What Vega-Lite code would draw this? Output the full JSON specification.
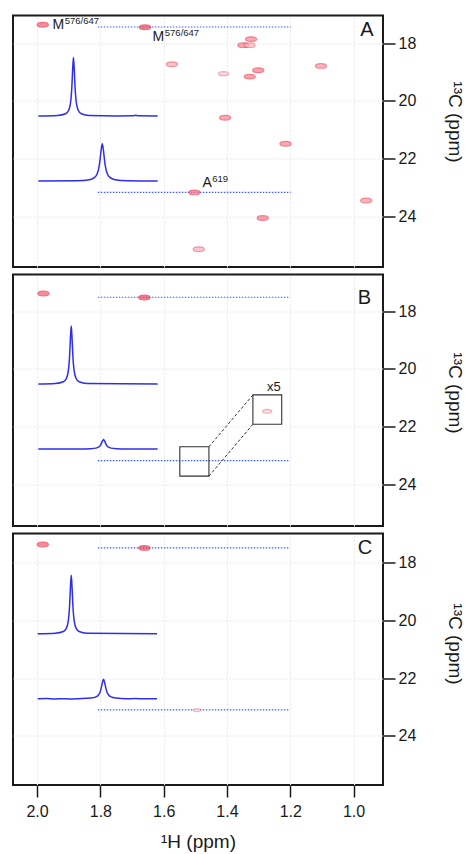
{
  "$schema": "https://vega.github.io/schema/vega-lite/v6.json",
  "background": "white",
  "padding": {"left": 12, "top": 14.5, "right": 0, "bottom": 0},
  "spacing": 5,
  "config": {
    "font": "Liberation Sans",
    "view": {"stroke": "#1a1a1a", "strokeWidth": 2},
    "axis": {"labelFont": "Liberation Sans", "titleFont": "Liberation Sans", "gridColor": "#e6e6e6", "gridDash": [2, 2], "gridWidth": 1, "labelColor": "#1a1a1a", "titleColor": "#1a1a1a", "tickColor": "#1a1a1a", "titleFontWeight": "normal"},
    "text": {"font": "Liberation Sans", "color": "#1a1a1a"}
  },
  "resolve": {"scale": {"y": "independent"}},
  "datasets": {
    "peaks": [
      {"p": "A", "h": 1.982, "c": 17.36, "i": 0.9},
      {"p": "A", "h": 1.659, "c": 17.45, "i": 1.0},
      {"p": "A", "h": 1.324, "c": 17.86, "i": 0.7},
      {"p": "A", "h": 1.348, "c": 18.07, "i": 0.7},
      {"p": "A", "h": 1.329, "c": 18.07, "i": 0.4},
      {"p": "A", "h": 1.574, "c": 18.73, "i": 0.5},
      {"p": "A", "h": 1.411, "c": 19.06, "i": 0.3},
      {"p": "A", "h": 1.301, "c": 18.94, "i": 0.75},
      {"p": "A", "h": 1.328, "c": 19.16, "i": 0.75},
      {"p": "A", "h": 1.103, "c": 18.79, "i": 0.6},
      {"p": "A", "h": 1.406, "c": 20.59, "i": 0.7},
      {"p": "A", "h": 1.215, "c": 21.49, "i": 0.7},
      {"p": "A", "h": 1.503, "c": 23.18, "i": 0.8},
      {"p": "A", "h": 0.96, "c": 23.46, "i": 0.6},
      {"p": "A", "h": 1.287, "c": 24.07, "i": 0.75},
      {"p": "A", "h": 1.489, "c": 25.15, "i": 0.45},
      {"p": "B", "h": 1.98, "c": 17.38, "i": 0.9},
      {"p": "B", "h": 1.661, "c": 17.52, "i": 1.0},
      {"p": "B", "h": 1.273, "c": 21.47, "i": 0.25},
      {"p": "C", "h": 1.982, "c": 17.36, "i": 0.9},
      {"p": "C", "h": 1.661, "c": 17.48, "i": 1.0},
      {"p": "C", "h": 1.495, "c": 23.11, "i": 0.15}
    ],
    "traces": [
      {"p": "A", "t": 1, "h": 1.996, "c": 20.527}, {"p": "A", "t": 1, "h": 1.935, "c": 20.51}, {"p": "A", "t": 1, "h": 1.91, "c": 20.452}, {"p": "A", "t": 1, "h": 1.9, "c": 20.327}, {"p": "A", "t": 1, "h": 1.895, "c": 20.124}, {"p": "A", "t": 1, "h": 1.8925, "c": 19.905}, {"p": "A", "t": 1, "h": 1.89, "c": 19.515}, {"p": "A", "t": 1, "h": 1.8875, "c": 18.906}, {"p": "A", "t": 1, "h": 1.885, "c": 18.5}, {"p": "A", "t": 1, "h": 1.8825, "c": 18.906}, {"p": "A", "t": 1, "h": 1.88, "c": 19.515}, {"p": "A", "t": 1, "h": 1.8775, "c": 19.905}, {"p": "A", "t": 1, "h": 1.875, "c": 20.124}, {"p": "A", "t": 1, "h": 1.87, "c": 20.327}, {"p": "A", "t": 1, "h": 1.86, "c": 20.452}, {"p": "A", "t": 1, "h": 1.835, "c": 20.51}, {"p": "A", "t": 1, "h": 1.75, "c": 20.525}, {"p": "A", "t": 1, "h": 1.695, "c": 20.522}, {"p": "A", "t": 1, "h": 1.688, "c": 20.505}, {"p": "A", "t": 1, "h": 1.681, "c": 20.522}, {"p": "A", "t": 1, "h": 1.619, "c": 20.528},
      {"p": "A", "t": 2, "h": 1.996, "c": 22.788}, {"p": "A", "t": 2, "h": 1.874, "c": 22.777}, {"p": "A", "t": 2, "h": 1.834, "c": 22.74}, {"p": "A", "t": 2, "h": 1.818, "c": 22.66}, {"p": "A", "t": 2, "h": 1.81, "c": 22.53}, {"p": "A", "t": 2, "h": 1.806, "c": 22.39}, {"p": "A", "t": 2, "h": 1.802, "c": 22.14}, {"p": "A", "t": 2, "h": 1.798, "c": 21.75}, {"p": "A", "t": 2, "h": 1.794, "c": 21.49}, {"p": "A", "t": 2, "h": 1.79, "c": 21.75}, {"p": "A", "t": 2, "h": 1.786, "c": 22.14}, {"p": "A", "t": 2, "h": 1.782, "c": 22.39}, {"p": "A", "t": 2, "h": 1.778, "c": 22.53}, {"p": "A", "t": 2, "h": 1.77, "c": 22.66}, {"p": "A", "t": 2, "h": 1.754, "c": 22.74}, {"p": "A", "t": 2, "h": 1.714, "c": 22.777}, {"p": "A", "t": 2, "h": 1.619, "c": 22.788},
      {"p": "B", "t": 1, "h": 1.996, "c": 20.517}, {"p": "B", "t": 1, "h": 1.942, "c": 20.5}, {"p": "B", "t": 1, "h": 1.917, "c": 20.443}, {"p": "B", "t": 1, "h": 1.907, "c": 20.319}, {"p": "B", "t": 1, "h": 1.902, "c": 20.118}, {"p": "B", "t": 1, "h": 1.8995, "c": 19.901}, {"p": "B", "t": 1, "h": 1.897, "c": 19.515}, {"p": "B", "t": 1, "h": 1.8945, "c": 18.912}, {"p": "B", "t": 1, "h": 1.892, "c": 18.51}, {"p": "B", "t": 1, "h": 1.8895, "c": 18.912}, {"p": "B", "t": 1, "h": 1.887, "c": 19.515}, {"p": "B", "t": 1, "h": 1.8845, "c": 19.901}, {"p": "B", "t": 1, "h": 1.882, "c": 20.118}, {"p": "B", "t": 1, "h": 1.877, "c": 20.319}, {"p": "B", "t": 1, "h": 1.867, "c": 20.443}, {"p": "B", "t": 1, "h": 1.842, "c": 20.5}, {"p": "B", "t": 1, "h": 1.619, "c": 20.52},
      {"p": "B", "t": 2, "h": 1.996, "c": 22.78}, {"p": "B", "t": 2, "h": 1.87, "c": 22.777}, {"p": "B", "t": 2, "h": 1.83, "c": 22.767}, {"p": "B", "t": 2, "h": 1.814, "c": 22.747}, {"p": "B", "t": 2, "h": 1.806, "c": 22.714}, {"p": "B", "t": 2, "h": 1.802, "c": 22.678}, {"p": "B", "t": 2, "h": 1.798, "c": 22.615}, {"p": "B", "t": 2, "h": 1.794, "c": 22.516}, {"p": "B", "t": 2, "h": 1.79, "c": 22.45}, {"p": "B", "t": 2, "h": 1.786, "c": 22.516}, {"p": "B", "t": 2, "h": 1.782, "c": 22.615}, {"p": "B", "t": 2, "h": 1.778, "c": 22.678}, {"p": "B", "t": 2, "h": 1.774, "c": 22.714}, {"p": "B", "t": 2, "h": 1.766, "c": 22.747}, {"p": "B", "t": 2, "h": 1.75, "c": 22.767}, {"p": "B", "t": 2, "h": 1.71, "c": 22.777}, {"p": "B", "t": 2, "h": 1.619, "c": 22.78},
      {"p": "C", "t": 1, "h": 1.998, "c": 20.457}, {"p": "C", "t": 1, "h": 1.942, "c": 20.44}, {"p": "C", "t": 1, "h": 1.917, "c": 20.382}, {"p": "C", "t": 1, "h": 1.907, "c": 20.257}, {"p": "C", "t": 1, "h": 1.902, "c": 20.054}, {"p": "C", "t": 1, "h": 1.8995, "c": 19.835}, {"p": "C", "t": 1, "h": 1.897, "c": 19.445}, {"p": "C", "t": 1, "h": 1.8945, "c": 18.836}, {"p": "C", "t": 1, "h": 1.892, "c": 18.43}, {"p": "C", "t": 1, "h": 1.8895, "c": 18.836}, {"p": "C", "t": 1, "h": 1.887, "c": 19.445}, {"p": "C", "t": 1, "h": 1.8845, "c": 19.835}, {"p": "C", "t": 1, "h": 1.882, "c": 20.054}, {"p": "C", "t": 1, "h": 1.877, "c": 20.257}, {"p": "C", "t": 1, "h": 1.867, "c": 20.382}, {"p": "C", "t": 1, "h": 1.842, "c": 20.44}, {"p": "C", "t": 1, "h": 1.621, "c": 20.46},
      {"p": "C", "t": 2, "h": 1.998, "c": 22.72}, {"p": "C", "t": 2, "h": 1.97, "c": 22.71}, {"p": "C", "t": 2, "h": 1.945, "c": 22.725}, {"p": "C", "t": 2, "h": 1.92, "c": 22.712}, {"p": "C", "t": 2, "h": 1.895, "c": 22.724}, {"p": "C", "t": 2, "h": 1.87, "c": 22.713}, {"p": "C", "t": 2, "h": 1.83, "c": 22.694}, {"p": "C", "t": 2, "h": 1.814, "c": 22.652}, {"p": "C", "t": 2, "h": 1.806, "c": 22.584}, {"p": "C", "t": 2, "h": 1.802, "c": 22.511}, {"p": "C", "t": 2, "h": 1.798, "c": 22.38}, {"p": "C", "t": 2, "h": 1.794, "c": 22.176}, {"p": "C", "t": 2, "h": 1.79, "c": 22.04}, {"p": "C", "t": 2, "h": 1.786, "c": 22.176}, {"p": "C", "t": 2, "h": 1.782, "c": 22.38}, {"p": "C", "t": 2, "h": 1.778, "c": 22.511}, {"p": "C", "t": 2, "h": 1.774, "c": 22.584}, {"p": "C", "t": 2, "h": 1.766, "c": 22.652}, {"p": "C", "t": 2, "h": 1.75, "c": 22.694}, {"p": "C", "t": 2, "h": 1.72, "c": 22.718}, {"p": "C", "t": 2, "h": 1.69, "c": 22.708}, {"p": "C", "t": 2, "h": 1.66, "c": 22.72}, {"p": "C", "t": 2, "h": 1.621, "c": 22.715}
    ],
    "guides": [
      {"p": "A", "h": 1.808, "h2": 1.199, "c": 17.44},
      {"p": "A", "h": 1.808, "h2": 1.199, "c": 23.18},
      {"p": "B", "h": 1.808, "h2": 1.201, "c": 17.51},
      {"p": "B", "h": 1.808, "h2": 1.201, "c": 23.18},
      {"p": "C", "h": 1.808, "h2": 1.201, "c": 17.48},
      {"p": "C", "h": 1.808, "h2": 1.201, "c": 23.1}
    ],
    "labels": [
      {"p": "A", "h": 1.914, "c": 17.51, "base": "M", "sup": "576/647"},
      {"p": "A", "h": 1.598, "c": 17.92, "base": "M", "sup": "576/647"},
      {"p": "A", "h": 1.448, "c": 22.98, "base": "A", "sup": "619"}
    ],
    "letters": [
      {"p": "A", "h": 0.958, "c": 17.54, "txt": "A"},
      {"p": "B", "h": 0.966, "c": 17.53, "txt": "B"},
      {"p": "C", "h": 0.964, "c": 17.48, "txt": "C"}
    ],
    "notes": [
      {"p": "B", "h": 1.252, "c": 20.63, "txt": "x5"}
    ],
    "boxes": [
      {"p": "B", "h": 1.549, "h2": 1.457, "c": 22.7, "c2": 23.72},
      {"p": "B", "h": 1.318, "h2": 1.227, "c": 20.9, "c2": 21.92}
    ],
    "connectors": [
      {"p": "B", "h": 1.457, "c": 22.7, "h2": 1.318, "c2": 20.9},
      {"p": "B", "h": 1.457, "c": 23.72, "h2": 1.318, "c2": 21.92}
    ]
  },
  "vconcat": [
    {
      "width": 370, "height": 251.5,
      "encoding": {
        "x": {"field": "h", "type": "quantitative", "scale": {"domain": [0.907, 2.076], "reverse": true, "nice": false, "zero": false},
              "axis": {"title": null, "labels": false, "ticks": false, "domain": false, "grid": true, "values": [2.0, 1.8, 1.6, 1.4, 1.2, 1.0]}},
        "y": {"field": "c", "type": "quantitative", "scale": {"domain": [17.04, 25.77], "reverse": true, "nice": false, "zero": false},
              "axis": {"orient": "right", "values": [18, 20, 22, 24], "title": "¹³C (ppm)", "titleY": 106, "titleFontSize": 19, "titlePadding": 29, "labelFontSize": 16, "labelPadding": 3, "tickSize": 12, "tickWidth": 1.5, "domain": false, "grid": true}}
      },
      "layer": [
        {"data": {"name": "guides"}, "transform": [{"filter": "datum.p === 'A'"}], "mark": {"type": "rule", "color": "#3f5cff", "strokeWidth": 1.2, "strokeDash": [1.5, 1.5]}, "encoding": {"x2": {"field": "h2"}}},
        {"data": {"name": "traces"}, "transform": [{"filter": "datum.p === 'A'"}], "mark": {"type": "line", "color": "#2e2ef0", "strokeWidth": 1.5, "interpolate": "monotone"}, "encoding": {"detail": {"field": "t"}}},
        {"data": {"name": "peaks"}, "transform": [{"filter": "datum.p === 'A'"}], "mark": {"type": "point", "shape": "M-1,0A1,0.42,0,1,0,1,0A1,0.42,0,1,0,-1,0Z", "filled": true, "stroke": "#e8304a", "strokeWidth": 1.2},
         "encoding": {"fill": {"field": "i", "type": "quantitative", "scale": {"domain": [0.1, 1], "range": ["#fff0f2", "#ee4560"]}, "legend": null},
                      "strokeOpacity": {"field": "i", "type": "quantitative", "scale": {"domain": [0.1, 1], "range": [0.45, 1]}, "legend": null},
                      "size": {"field": "i", "type": "quantitative", "scale": {"domain": [0.1, 0.4], "range": [40, 125], "clamp": true}, "legend": null}}},
        {"data": {"name": "labels"}, "transform": [{"filter": "datum.p === 'A'"}], "mark": {"type": "text", "align": "right", "baseline": "alphabetic", "fontSize": 14}, "encoding": {"text": {"field": "base"}}},
        {"data": {"name": "labels"}, "transform": [{"filter": "datum.p === 'A'"}], "mark": {"type": "text", "align": "left", "baseline": "alphabetic", "fontSize": 9.5, "dx": 0.5, "dy": -5}, "encoding": {"text": {"field": "sup"}}},
        {"data": {"name": "letters"}, "transform": [{"filter": "datum.p === 'A'"}], "mark": {"type": "text", "align": "center", "baseline": "middle", "fontSize": 20}, "encoding": {"text": {"field": "txt"}}}
      ]
    },
    {
      "width": 370, "height": 251.5,
      "encoding": {
        "x": {"field": "h", "type": "quantitative", "scale": {"domain": [0.907, 2.076], "reverse": true, "nice": false, "zero": false},
              "axis": {"title": null, "labels": false, "ticks": false, "domain": false, "grid": true, "values": [2.0, 1.8, 1.6, 1.4, 1.2, 1.0]}},
        "y": {"field": "c", "type": "quantitative", "scale": {"domain": [16.72, 25.45], "reverse": true, "nice": false, "zero": false},
              "axis": {"orient": "right", "values": [18, 20, 22, 24], "title": "¹³C (ppm)", "titleY": 118, "titleFontSize": 19, "titlePadding": 29, "labelFontSize": 16, "labelPadding": 3, "tickSize": 12, "tickWidth": 1.5, "domain": false, "grid": true}}
      },
      "layer": [
        {"data": {"name": "guides"}, "transform": [{"filter": "datum.p === 'B'"}], "mark": {"type": "rule", "color": "#3f5cff", "strokeWidth": 1.2, "strokeDash": [1.5, 1.5]}, "encoding": {"x2": {"field": "h2"}}},
        {"data": {"name": "traces"}, "transform": [{"filter": "datum.p === 'B'"}], "mark": {"type": "line", "color": "#2e2ef0", "strokeWidth": 1.5, "interpolate": "monotone"}, "encoding": {"detail": {"field": "t"}}},
        {"data": {"name": "boxes"}, "transform": [{"filter": "datum.p === 'B'"}], "mark": {"type": "rect", "fill": null, "stroke": "#333333", "strokeWidth": 1.1}, "encoding": {"x2": {"field": "h2"}, "y2": {"field": "c2"}}},
        {"data": {"name": "connectors"}, "transform": [{"filter": "datum.p === 'B'"}], "mark": {"type": "rule", "color": "#333333", "strokeWidth": 1, "strokeDash": [3, 2]}, "encoding": {"x2": {"field": "h2"}, "y2": {"field": "c2"}}},
        {"data": {"name": "peaks"}, "transform": [{"filter": "datum.p === 'B'"}], "mark": {"type": "point", "shape": "M-1,0A1,0.42,0,1,0,1,0A1,0.42,0,1,0,-1,0Z", "filled": true, "stroke": "#e8304a", "strokeWidth": 1.2},
         "encoding": {"fill": {"field": "i", "type": "quantitative", "scale": {"domain": [0.1, 1], "range": ["#fff0f2", "#ee4560"]}, "legend": null},
                      "strokeOpacity": {"field": "i", "type": "quantitative", "scale": {"domain": [0.1, 1], "range": [0.45, 1]}, "legend": null},
                      "size": {"field": "i", "type": "quantitative", "scale": {"domain": [0.1, 0.4], "range": [40, 125], "clamp": true}, "legend": null}}},
        {"data": {"name": "notes"}, "transform": [{"filter": "datum.p === 'B'"}], "mark": {"type": "text", "align": "center", "baseline": "middle", "fontSize": 13}, "encoding": {"text": {"field": "txt"}}},
        {"data": {"name": "letters"}, "transform": [{"filter": "datum.p === 'B'"}], "mark": {"type": "text", "align": "center", "baseline": "middle", "fontSize": 20}, "encoding": {"text": {"field": "txt"}}}
      ]
    },
    {
      "width": 370, "height": 251.5,
      "encoding": {
        "x": {"field": "h", "type": "quantitative", "scale": {"domain": [0.907, 2.076], "reverse": true, "nice": false, "zero": false},
              "axis": {"title": "¹H (ppm)", "values": [2.0, 1.8, 1.6, 1.4, 1.2, 1.0], "format": ".1f", "tickSize": 12, "tickWidth": 1.5, "labelFontSize": 16, "labelPadding": 6, "titleFontSize": 19, "titlePadding": 13, "domain": false, "grid": true}},
        "y": {"field": "c", "type": "quantitative", "scale": {"domain": [16.98, 25.71], "reverse": true, "nice": false, "zero": false},
              "axis": {"orient": "right", "values": [18, 20, 22, 24], "title": "¹³C (ppm)", "titleY": 110, "titleFontSize": 19, "titlePadding": 29, "labelFontSize": 16, "labelPadding": 3, "tickSize": 12, "tickWidth": 1.5, "domain": false, "grid": true}}
      },
      "layer": [
        {"data": {"name": "guides"}, "transform": [{"filter": "datum.p === 'C'"}], "mark": {"type": "rule", "color": "#3f5cff", "strokeWidth": 1.2, "strokeDash": [1.5, 1.5]}, "encoding": {"x2": {"field": "h2"}}},
        {"data": {"name": "traces"}, "transform": [{"filter": "datum.p === 'C'"}], "mark": {"type": "line", "color": "#2e2ef0", "strokeWidth": 1.5, "interpolate": "monotone"}, "encoding": {"detail": {"field": "t"}}},
        {"data": {"name": "peaks"}, "transform": [{"filter": "datum.p === 'C'"}], "mark": {"type": "point", "shape": "M-1,0A1,0.42,0,1,0,1,0A1,0.42,0,1,0,-1,0Z", "filled": true, "stroke": "#e8304a", "strokeWidth": 1.2},
         "encoding": {"fill": {"field": "i", "type": "quantitative", "scale": {"domain": [0.1, 1], "range": ["#fff0f2", "#ee4560"]}, "legend": null},
                      "strokeOpacity": {"field": "i", "type": "quantitative", "scale": {"domain": [0.1, 1], "range": [0.45, 1]}, "legend": null},
                      "size": {"field": "i", "type": "quantitative", "scale": {"domain": [0.1, 0.4], "range": [40, 125], "clamp": true}, "legend": null}}},
        {"data": {"name": "letters"}, "transform": [{"filter": "datum.p === 'C'"}], "mark": {"type": "text", "align": "center", "baseline": "middle", "fontSize": 20}, "encoding": {"text": {"field": "txt"}}}
      ]
    }
  ]
}
